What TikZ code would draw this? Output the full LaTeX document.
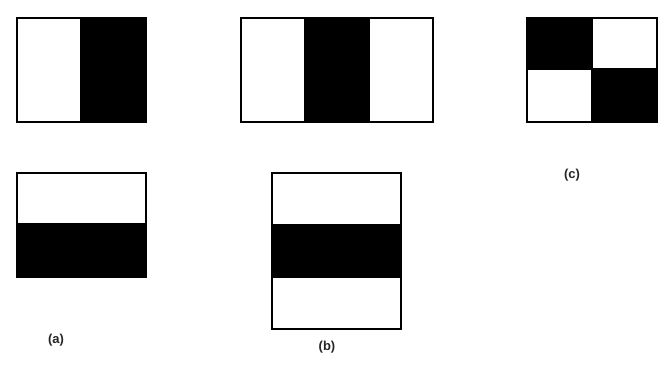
\documentclass[tikz,border=0pt]{standalone}
\usepackage{fontspec}
\setmainfont{Liberation Sans}
\usepackage{tikz}

\begin{document}
\begin{tikzpicture}[
  x=1pt, y=-1pt,
  frame/.style={draw=black, line width=2.2pt},
  dark/.style={fill=black},
  lab/.style={font=\fontsize{13}{15}\selectfont\bfseries, text=black!85, inner sep=0pt}]
\useasboundingbox (0,0) rectangle (671,379);
% (a) two-rectangle features
\fill[dark] (80,18) rectangle (146,122);
\draw[frame] (17,18) rectangle (146,122);
\fill[dark] (17,223) rectangle (146,277);
\draw[frame] (17,173) rectangle (146,277);
% (b) three-rectangle features
\fill[dark] (305,18) rectangle (369,122);
\draw[frame] (241,18) rectangle (433,122);
\draw[frame] (305,18) -- (305,122) (369,18) -- (369,122);
\fill[dark] (272,224) rectangle (401,278);
\draw[frame] (272,173) rectangle (401,329);
% (c) four-rectangle feature
\fill[dark] (527,18) rectangle (592,69);
\fill[dark] (592,69) rectangle (657,122);
\draw[frame] (527,18) rectangle (657,122);
\draw[frame] (527,69) -- (657,69) (592,18) -- (592,122);
\node[lab] (labA) at (56,340) {(a)};
\node[lab] (labB) at (327,347) {(b)};
\node[lab] (labC) at (572,175) {(c)};
\end{tikzpicture}
\end{document}
